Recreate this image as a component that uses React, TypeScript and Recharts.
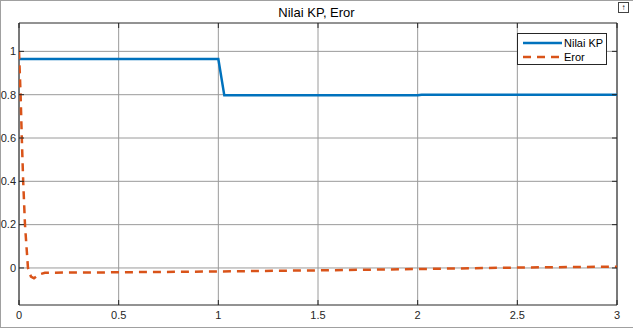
import { CartesianGrid, Line, LineChart, ReferenceArea, XAxis, YAxis } from "recharts";

const kpX = [0, 1.0, 1.03, 2.0, 2.02, 3];
const kpY = [0.965, 0.965, 0.797, 0.797, 0.8, 0.8];

const erorX = [0, 0.008, 0.014, 0.021, 0.03, 0.045, 0.06, 0.075, 0.1, 0.13, 0.5, 1, 1.5, 2, 2.5, 3];
const erorY = [1, 0.8, 0.6, 0.4, 0.2, 0, -0.04, -0.048, -0.03, -0.022, -0.02, -0.016, -0.011, -0.005, 0.002, 0.006];

const xTicks = [0, 0.5, 1, 1.5, 2, 2.5, 3];
const yTicks = [0, 0.2, 0.4, 0.6, 0.8, 1];

const kpData = kpX.map((x, i) => ({ x, y: kpY[i] }));
const erorData = erorX.map((x, i) => ({ x, y: erorY[i] }));

const W = 633;
const H = 330;
const M = { top: 23, right: 16, bottom: 0, left: 0 };
const Y_W = 19;
const X_H = 25;
const plotTop = M.top;
const plotBottom = H - M.bottom - X_H;
const plotLeft = M.left + Y_W;
const plotRight = W - M.right;

const font = "Liberation Sans, Arial, sans-serif";
const textColor = "#262626";

function XTick(props: any) {
  const { x, y, payload } = props;
  return (
    <g>
      <line x1={x} x2={x} y1={plotBottom} y2={plotBottom - 5} stroke="#262626" />
      <line x1={x} x2={x} y1={plotTop} y2={plotTop + 5} stroke="#262626" />
      <text x={x} y={y} dy="0.71em" textAnchor="middle" fontSize={11} fontFamily={font} fill={textColor}>
        {String(payload.value)}
      </text>
    </g>
  );
}

function YTick(props: any) {
  const { x, y, payload } = props;
  return (
    <g>
      <line x1={plotLeft} x2={plotLeft + 5} y1={y} y2={y} stroke="#262626" />
      <line x1={plotRight} x2={plotRight - 5} y1={y} y2={y} stroke="#262626" />
      <text x={x} y={y} dy="0.35em" textAnchor="end" fontSize={11} fontFamily={font} fill={textColor}>
        {String(payload.value)}
      </text>
    </g>
  );
}

function LegendBox() {
  return (
    <div
      style={{
        position: "absolute",
        left: 517,
        top: 33,
        width: 88,
        height: 30,
        border: "1px solid #262626",
        background: "#fff",
        fontFamily: font,
        fontSize: 11,
        color: "#000",
      }}
    >
      <div style={{ display: "flex", alignItems: "center", height: 15, marginTop: 1 }}>
        <svg width={46} height={6}>
          <line x1={5} x2={44} y1={3} y2={3} stroke="#0072BD" strokeWidth={2.5} />
        </svg>
        <span>Nilai KP</span>
      </div>
      <div style={{ display: "flex", alignItems: "center", height: 14 }}>
        <svg width={46} height={6}>
          <line x1={5} x2={44} y1={3} y2={3} stroke="#D95319" strokeWidth={2.5} strokeDasharray="8 6" />
        </svg>
        <span>Eror</span>
      </div>
    </div>
  );
}

export default function App() {
  return (
    <div style={{ position: "absolute", left: 0, top: 0, width: W, height: H, background: "#fff" }}>
      <div
        style={{
          position: "absolute",
          left: 0,
          top: 0,
          width: W - 1,
          height: H - 4,
          borderLeft: "1px solid #a0a0a0",
          borderTop: "1px solid #a0a0a0",
          borderBottom: "1px solid #a0a0a0",
        }}
      />
      <div
        style={{
          position: "absolute",
          left: 0,
          width: W,
          top: 5,
          textAlign: "center",
          fontFamily: font,
          fontSize: 13,
          color: "#000",
        }}
      >
        Nilai KP, Eror
      </div>
      <div
        style={{
          position: "absolute",
          left: 618,
          top: 2,
          width: 9,
          height: 9,
          border: "1px solid #444",
          fontSize: 8,
          lineHeight: "9px",
          textAlign: "center",
          fontFamily: font,
        }}
      >
        ↑
      </div>
      <LineChart width={W} height={H} margin={M} style={{ position: "absolute", left: 0, top: 0 }}>
        <CartesianGrid stroke="#9a9a9a" strokeWidth={1} verticalValues={xTicks} horizontalValues={yTicks} />
        <XAxis
          dataKey="x"
          type="number"
          domain={[0, 3]}
          ticks={xTicks}
          allowDataOverflow
          height={X_H}
          tickSize={0}
          tickMargin={6}
          axisLine={false}
          tick={<XTick />}
        />
        <YAxis
          type="number"
          domain={[-0.171, 1.131]}
          ticks={yTicks}
          allowDataOverflow
          width={Y_W}
          tickSize={0}
          tickMargin={3}
          axisLine={false}
          tick={<YTick />}
        />
        <ReferenceArea x1={0} x2={3} y1={-0.171} y2={1.131} fill="none" stroke="#262626" strokeWidth={1} />
        <Line
          data={kpData}
          dataKey="y"
          type="linear"
          stroke="#0072BD"
          strokeWidth={2.5}
          dot={false}
          isAnimationActive={false}
          name="Nilai KP"
        />
        <Line
          data={erorData}
          dataKey="y"
          type="linear"
          stroke="#D95319"
          strokeWidth={2.5}
          strokeDasharray="8 6"
          dot={false}
          isAnimationActive={false}
          name="Eror"
        />
      </LineChart>
      <LegendBox />
    </div>
  );
}
